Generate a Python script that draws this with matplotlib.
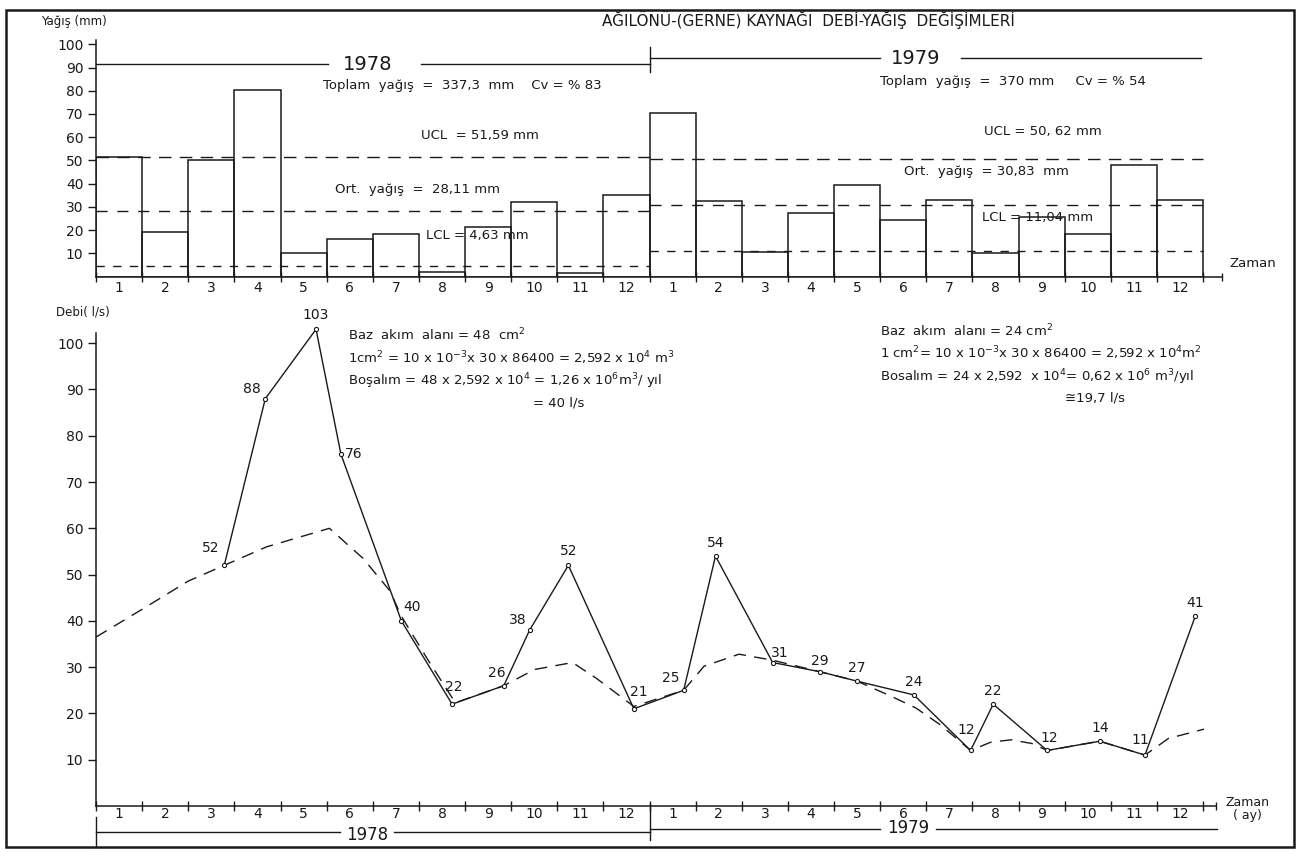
import numpy as np
import matplotlib
matplotlib.use("Agg")
import matplotlib.pyplot as plt
from matplotlib.patches import Rectangle

# aylık yağış (mm) - 1978 ve 1979
aylar = list(range(1, 13)) * 2
yagis_1978 = [51.5, 19, 50, 80.5, 10, 16, 18.5, 2, 21.5, 32, 1.5, 35]
yagis_1979 = [70.5, 32.5, 10.5, 27.5, 39.5, 24.5, 33, 10, 25.5, 18.5, 48, 33]

# kontrol çizgileri (UCL, ortalama, LCL)
kontrol_1978 = [51.59, 28.11, 4.63]
kontrol_1979 = [50.62, 30.83, 11.04]

# debi ölçümleri: zaman (1978 Ocak başından itibaren ay), debi (l/s)
debi_zaman = [2.78, 3.67, 4.77, 5.31, 6.62, 7.72, 8.84, 9.40, 10.24, 11.66, 12.74,
              13.43, 14.67, 15.70, 16.49, 17.73, 18.96, 19.45, 20.62, 21.76, 22.74, 23.83]
debi = [52, 88, 103, 76, 40, 22, 26, 38, 52, 21, 25, 54, 31, 29, 27, 24, 12, 22, 12, 14, 11, 41]

# baz akım eğrisi
baz_zaman = [0, 1.0, 2.0, 2.78, 3.7, 5.06, 5.79, 6.37, 6.62, 7.2, 7.79, 8.84, 9.51, 10.33,
             10.86, 11.66, 12.74, 13.18, 13.94, 14.67, 15.70, 16.49, 17.22, 17.77, 18.31,
             18.96, 19.4, 19.84, 20.29, 20.62, 21.76, 22.74, 23.25, 24.02]
baz = [36.5, 42.5, 48.6, 52, 56, 60, 53.5, 46.5, 41, 31.5, 22.3, 26, 29.5, 31,
       27.5, 21.5, 25, 30.2, 32.8, 31.5, 29, 27, 23.8, 21.2, 17.5,
       12, 13.8, 14.3, 13.5, 12, 14, 11, 14.6, 16.6]

# etiket kaydırmaları (piksel)
etiket_kayma = [(-14, 17), (-13, 10), (0, 14), (13, 0), (11, 14), (2, 17), (-7, 13), (-12, 10),
                (0, 14), (5, 17), (-13, 12), (0, 13), (7, 10), (0, 11), (0, 13), (0, 13),
                (-4, 20), (0, 13), (2, 12), (0, 13), (-5, 15), (0, 13)]

W, H = 1300, 856
K = "#1a1a1a"
plt.rcParams["font.family"] = ["DejaVu Sans"]
plt.rcParams["text.color"] = K
fig = plt.figure(figsize=(13, 8.56), dpi=100)


def fx(p):
    return p / W


def fy(p):
    return 1 - p / H


def eksen(sol, sag, ust, alt):
    return fig.add_axes([fx(sol), fy(alt), fx(sag) - fx(sol), fy(ust) - fy(alt)])


def yazi(x, y, s, **kw):
    kw.setdefault("fontsize", 9.5)
    kw.setdefault("va", "center")
    fig.text(fx(x), fy(y), s, **kw)


def sade(ax):
    for s in ["top", "right"]:
        ax.spines[s].set_visible(False)
    for s in ["left", "bottom"]:
        ax.spines[s].set_linewidth(1.1)
        ax.spines[s].set_color(K)
    ax.set_facecolor("none")


# ---------------- üst grafik: yağış ----------------
ax1 = eksen(96, 1222, 39.7, 276.5)
sade(ax1)
ax1.set_xlim(0, 24.41)
ax1.set_ylim(0, 102)
yagis = yagis_1978 + yagis_1979
ax1.bar(np.arange(24), yagis, width=1, align="edge", fill=False, edgecolor=K, lw=1.1)

stiller = [(0, (9, 6)), (0, (8, 7)), (0, (6, 6))]
for v, st in zip(kontrol_1978, stiller):
    ax1.plot([0, 12], [v, v], color=K, lw=1, ls=st)
for v, st in zip(kontrol_1979, stiller):
    ax1.plot([12, 24], [v, v], color=K, lw=1, ls=st)

# yıl çizgileri
ax1.plot([0, 5.02], [91.5, 91.5], color=K, lw=1)
ax1.plot([7.04, 12], [91.5, 91.5], color=K, lw=1)
ax1.text(5.89, 91.5, "1978", ha="center", va="center", fontsize=14)
ax1.plot([12, 12], [88, 99], color=K, lw=1)
ax1.plot([12, 17.0], [94, 94], color=K, lw=1)
ax1.plot([18.75, 23.96], [94, 94], color=K, lw=1)
ax1.text(17.76, 94, "1979", ha="center", va="center", fontsize=14)

ax1.set_yticks(range(10, 101, 10))
ax1.tick_params(axis="y", length=6, width=1, pad=3, labelsize=10, colors=K)
ax1.set_xticks(np.arange(24) + 0.5)
ax1.set_xticklabels(aylar)
ax1.set_xticks(np.arange(0, 25), minor=True)
ax1.tick_params(axis="x", which="major", length=0, pad=3, labelsize=10, colors=K)
ax1.tick_params(axis="x", which="minor", length=7, width=1, direction="inout", colors=K)
ax1.plot([24.41], [0], marker="|", ms=6, color=K, clip_on=False)

yazi(41, 22, "Yağış (mm)", fontsize=8.5)
yazi(808, 20, "AĞILÖNÜ-(GERNE) KAYNAĞI  DEBİ-YAĞIŞ  DEĞİŞİMLERİ", ha="center", fontsize=11)
yazi(1229, 264, "Zaman", fontsize=9.5)
yazi(323, 86, "Toplam  yağış  =  337,3  mm    Cv = % 83", fontsize=9.5)
yazi(880, 82, "Toplam  yağış  =  370 mm     Cv = % 54", fontsize=9.5)
yazi(421, 136, "UCL  = 51,59 mm")
yazi(335, 189, "Ort.  yağış  =  28,11 mm")
yazi(426, 235, "LCL = 4,63 mm")
yazi(984, 131, "UCL = 50, 62 mm")
yazi(904, 171, "Ort.  yağış  = 30,83  mm")
yazi(982, 218, "LCL = 11,04 mm")

# ---------------- alt grafik: debi ----------------
ax2 = eksen(96, 1216, 333, 806)
sade(ax2)
ax2.set_xlim(0, 24.28)
ax2.set_ylim(0, 102.2)
ax2.plot(baz_zaman, baz, color=K, lw=1, ls=(0, (9, 6)))
ax2.plot(debi_zaman, debi, color=K, lw=1, marker="o", ms=3, mfc="white", mec=K, mew=0.8,
         clip_on=False)
for t, v, (dx, dy) in zip(debi_zaman, debi, etiket_kayma):
    ax2.annotate(str(v), (t, v), xytext=(dx, dy), textcoords="offset pixels",
                 ha="center", va="center", fontsize=10, annotation_clip=False)

ax2.set_yticks(range(10, 101, 10))
ax2.tick_params(axis="y", length=6, width=1, pad=3, labelsize=10, colors=K)
ax2.set_xticks(np.arange(24) + 0.5)
ax2.set_xticklabels(aylar)
ax2.set_xticks(np.arange(0, 25), minor=True)
ax2.tick_params(axis="x", which="major", length=0, pad=1, labelsize=10, colors=K)
ax2.tick_params(axis="x", which="minor", length=7, width=1, direction="inout", colors=K)
ax2.plot([24.28], [0], marker="|", ms=6, color=K, clip_on=False)

# yıl parantezleri
ax2.plot([0, 0], [-2.3, -8.8], color=K, lw=1, clip_on=False)
ax2.plot([12, 12], [0.5, -7.3], color=K, lw=1, clip_on=False)
ax2.plot([0, 5.3], [-5.6, -5.6], color=K, lw=1, clip_on=False)
ax2.plot([6.45, 12], [-5.6, -5.6], color=K, lw=1, clip_on=False)
ax2.text(5.88, -6.2, "1978", ha="center", va="center", fontsize=12, clip_on=False)
ax2.plot([12, 17.0], [-5.0, -5.0], color=K, lw=1, clip_on=False)
ax2.plot([18.2, 24.3], [-5.0, -5.0], color=K, lw=1, clip_on=False)
ax2.text(17.6, -4.8, "1979", ha="center", va="center", fontsize=12, clip_on=False)

yazi(56, 312, "Debi( l/s)", fontsize=8.5)
yazi(1247, 809, "Zaman\n( ay)", ha="center", fontsize=9, linespacing=1.1)

yazi(348, 335, "Baz  akım  alanı = 48  cm$^2$")
yazi(348, 358, "1cm$^2$ = 10 x 10$^{-3}$x 30 x 86400 = 2,592 x 10$^4$ m$^3$")
yazi(348, 381, "Boşalım = 48 x 2,592 x 10$^4$ = 1,26 x 10$^6$m$^3$/ yıl")
yazi(533, 403, "= 40 l/s")
yazi(880, 331, "Baz  akım  alanı = 24 cm$^2$")
yazi(880, 353, "1 cm$^2$= 10 x 10$^{-3}$x 30 x 86400 = 2,592 x 10$^4$m$^2$")
yazi(880, 377, "Bosalım = 24 x 2,592  x 10$^4$= 0,62 x 10$^6$ m$^3$/yıl")
yazi(1065, 398, "≅19,7 l/s")

# çerçeve
fig.add_artist(Rectangle((fx(6), fy(847)), fx(1294) - fx(6), fy(10) - fy(847),
                         fill=False, lw=1.8, edgecolor=K, transform=fig.transFigure))

fig.savefig("out.png", dpi=100)
